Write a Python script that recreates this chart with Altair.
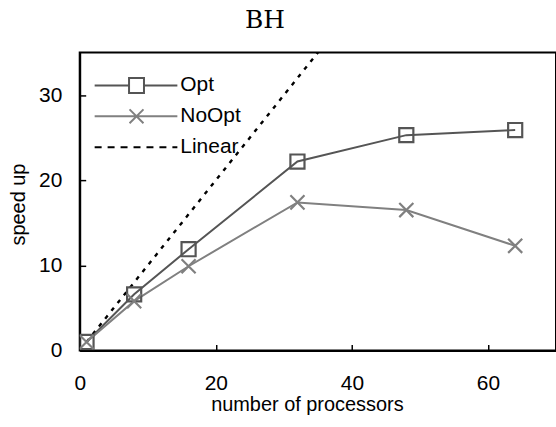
import altair as alt
import pandas as pd

procs = [1, 8, 16, 32, 48, 64]
opt_speedup = [1.0, 6.6, 11.9, 22.2, 25.3, 25.9]
noopt_speedup = [1.0, 5.8, 9.9, 17.4, 16.5, 12.3]
linear_procs = [1, 8, 16, 32, 64]
linear_speedup = [1, 8, 16, 32, 64]
series_names = ["Opt", "NoOpt", "Linear"]
series_colors = ["#555555", "#808080", "#000000"]
x_ticks = [0, 20, 40, 60]
y_ticks = [0, 10, 20, 30]

df = pd.DataFrame({
    "procs": procs + procs,
    "speedup": opt_speedup + noopt_speedup,
    "series": ["Opt"] * len(procs) + ["NoOpt"] * len(procs),
})
lin = pd.DataFrame({"procs": linear_procs, "speedup": linear_speedup,
                    "series": ["Linear"] * len(linear_procs)})

FONT = "Liberation Sans"
X_PATH = "M-1,-1L1,1M-1,1L1,-1"

OPT_SYM = "M-42,0H-7.5M7.5,0H41M-7.5,-7.5H7.5V7.5H-7.5Z"
NOOPT_SYM = "M-42,0H41M-7,-7L7,7M-7,7L7,-7"
LIN_SYM = "M-42,0H-35M-29,0H-22M-16,0H-9M-3,0H4M10,0H17M23,0H30M36,0H41"
legend_shape = (f"datum.value === 'Opt' ? '{OPT_SYM}' : "
                f"(datum.value === 'NoOpt' ? '{NOOPT_SYM}' : '{LIN_SYM}')")

legend = alt.Legend(
    title=None, orient="none", legendX=46.5, legendY=22.5,
    symbolType=alt.ExprRef(expr=legend_shape),
    symbolSize=4, symbolStrokeWidth=2, symbolOffset=0,
    symbolFillColor="transparent", symbolOpacity=1,
    labelFont=FONT, labelFontSize=21, labelColor="black", labelOffset=33.5,
    rowPadding=8, padding=0,
)

color_scale = alt.Scale(domain=series_names, range=series_colors)
shape_scale = alt.Scale(domain=["Opt", "NoOpt"], range=["square", X_PATH])

x_enc = alt.X("procs:Q", scale=alt.Scale(domain=[0, 70], nice=False),
              axis=alt.Axis(values=x_ticks, title="number of processors",
                            titleX=228, titleY=60, titleAlign="center",
                            titleBaseline="alphabetic", labelFlush=False,
                            labelBaseline="alphabetic", labelPadding=45))
y_enc = alt.Y("speedup:Q", scale=alt.Scale(domain=[0, 35], nice=False),
              axis=alt.Axis(values=y_ticks, title="speed up",
                            titleX=-55.5, titleY=152, titleAngle=270,
                            titleAlign="center", titleBaseline="alphabetic",
                            labelFlush=False, labelPadding=24))

lines = alt.Chart(df).mark_line(strokeWidth=2, clip=True).encode(
    x=x_enc, y=y_enc,
    color=alt.Color("series:N", scale=color_scale, legend=legend),
)
points = alt.Chart(df).mark_point(filled=False, size=200, strokeWidth=2.2,
                                   opacity=1, clip=True).encode(
    x=x_enc, y=y_enc,
    color=alt.Color("series:N", scale=color_scale, legend=legend),
    shape=alt.Shape("series:N", scale=shape_scale, legend=None),
)
linear = alt.Chart(lin).mark_line(strokeWidth=2.4, strokeDash=[4, 6],
                                  clip=True).encode(
    x=x_enc, y=y_enc,
    color=alt.Color("series:N", scale=color_scale, legend=legend),
)

chart = alt.layer(linear, lines, points).properties(
    width=478, height=299,
    title=alt.TitleParams("BH", font="DejaVu Serif", fontSize=25,
                          fontWeight="normal", anchor="middle", frame="group",
                          dx=-53, dy=23, baseline="alphabetic", offset=23,
                          color="black"),
    padding={"left": 80, "top": 52, "right": 0, "bottom": 76},
    autosize="none",
).configure_view(
    stroke="black", strokeWidth=2
).configure_axis(
    grid=False, domainColor="black", domainWidth=2,
    tickColor="black", tickWidth=1.5, tickSize=alt.ExprRef(expr="-6"),
    labelFont=FONT, labelFontSize=21, labelColor="black",
    titleFont=FONT, titleFontSize=20, titleFontWeight="normal",
    titleColor="black",
)

chart.save("out.html", embed_options={"renderer": "svg", "actions": False})
